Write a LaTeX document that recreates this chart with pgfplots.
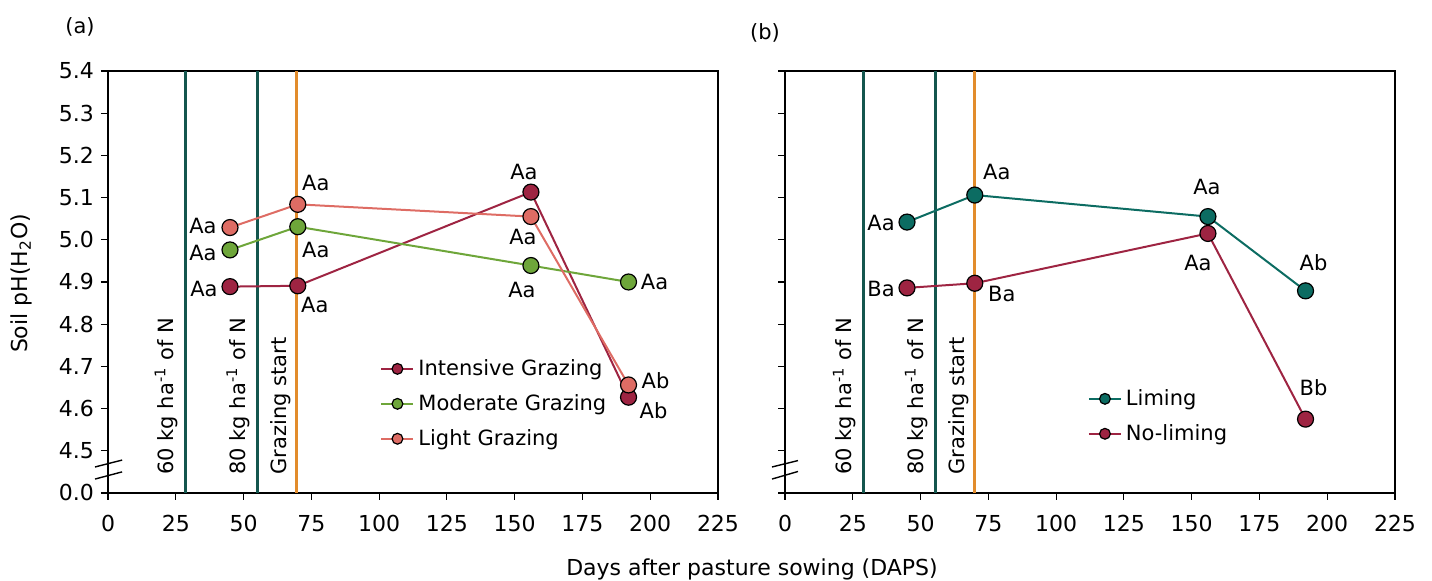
\documentclass[border=0pt]{standalone}
\usepackage{fontspec}
\setmainfont{DejaVu Sans}
\usepackage{pgfplots}
\pgfplotsset{compat=1.18}

\definecolor{intred}{RGB}{158,36,66}
\definecolor{modgreen}{RGB}{110,166,58}
\definecolor{lightsal}{RGB}{222,108,100}
\definecolor{limteal}{RGB}{12,108,98}
\definecolor{vteal}{RGB}{20,86,78}
\definecolor{vorange}{RGB}{226,140,44}

\newcommand{\fs}{\fontsize{10.5}{12.5}\selectfont}
\newcommand{\ft}{\fontsize{11}{13}\selectfont}
\newcommand{\lab}[4]{\node[font=\fs,inner sep=0pt] at ([xshift=#2,yshift=#3]axis cs:#1) {#4};}

\pgfplotsset{
  panel/.style={
    scale only axis, width=305pt, height=211pt,
    xmin=0, xmax=225, ymin=4.4, ymax=5.4,
    xtick={0,25,50,75,100,125,150,175,200,225},
    ytick={4.4,4.5,4.6,4.7,4.8,4.9,5.0,5.1,5.2,5.3,5.4},
    tick align=outside, xtick pos=bottom, ytick pos=left,
    major tick length=3.5pt,
    tick style={black, line width=0.6pt},
    axis line style={line width=0.7pt},
    /pgf/number format/assume math mode=true,
    tick label style={font=\ft},
    xticklabel style={yshift=-4pt},
    clip=false,
    legend cell align=left,
    legend style={draw=none, fill=none, font=\fs, row sep=4pt, inner sep=0pt},
    legend image code/.code={\draw[mark repeat=2,mark phase=2,##1,mark size=2.7pt] plot coordinates {(0pt,0pt)(8pt,0pt)(16pt,0pt)};},
  },
  ser/.style={line width=1pt, mark=*, mark size=4pt, mark options={draw=black, line width=0.6pt, fill=#1}, color=#1},
}

\begin{document}
\begin{tikzpicture}
\path[use as bounding box] (0,0) rectangle (716pt,290.5pt);

% ---------------- panel (a)
\begin{axis}[panel, at={(54pt,44pt)}, anchor=south west,
  yticklabels={0.0,4.5,4.6,4.7,4.8,4.9,5.0,5.1,5.2,5.3,5.4},
  legend style={at={(rel axis cs:0.446,0.327)}, anchor=north west}]
\addplot[vteal, line width=1.5pt, forget plot] coordinates {(28.5,4.4) (28.5,5.4)};
\addplot[vteal, line width=1.5pt, forget plot] coordinates {(55,4.4) (55,5.4)};
\addplot[ser=intred] coordinates {(45,4.889) (70,4.891) (156,5.113) (192,4.627)};
\addlegendentry{Intensive Grazing}
\addplot[ser=modgreen] coordinates {(45,4.976) (70,5.031) (156,4.939) (192,4.900)};
\addlegendentry{Moderate Grazing}
\addplot[ser=lightsal] coordinates {(45,5.029) (70,5.084) (156,5.055) (192,4.656)};
\addlegendentry{Light Grazing}
\addplot[vorange, line width=1.5pt, forget plot] coordinates {(69.5,4.4) (69.5,5.4)};

\node[font=\fs, rotate=90, anchor=base west, inner sep=0pt] at ([xshift=-6pt,yshift=9pt]axis cs:28.5,4.4) {60 kg ha\textsuperscript{-1} of N};
\node[font=\fs, rotate=90, anchor=base west, inner sep=0pt] at ([xshift=-6pt,yshift=9pt]axis cs:55,4.4) {80 kg ha\textsuperscript{-1} of N};
\node[font=\fs, rotate=90, anchor=base west, inner sep=0pt] at ([xshift=-5pt,yshift=9pt]axis cs:69.5,4.4) {Grazing start};

\lab{45,5.029}{-13.5pt}{1pt}{Aa}
\lab{70,5.084}{9pt}{10.5pt}{Aa}
\lab{156,5.055}{-4pt}{-10pt}{Aa}
\lab{192,4.656}{13.5pt}{2pt}{Ab}
\lab{45,4.976}{-13.5pt}{-1.5pt}{Aa}
\lab{70,5.031}{9pt}{-11.5pt}{Aa}
\lab{156,4.939}{-4.5pt}{-12pt}{Aa}
\lab{192,4.900}{13pt}{0pt}{Aa}
\lab{45,4.889}{-13pt}{-1pt}{Aa}
\lab{70,4.891}{8.5pt}{-9.5pt}{Aa}
\lab{156,5.113}{-3.5pt}{10pt}{Aa}
\lab{192,4.627}{12.5pt}{-6.5pt}{Ab}

\draw[line width=0.7pt] (axis cs:-4.8,4.4616) -- (axis cs:5.2,4.478);
\draw[line width=0.7pt] (axis cs:-4.8,4.433) -- (axis cs:5.2,4.450);
\end{axis}

% ---------------- panel (b)
\begin{axis}[panel, at={(392.5pt,44pt)}, anchor=south west,
  yticklabels={},
  legend style={at={(rel axis cs:0.496,0.256)}, anchor=north west}]
\addplot[vteal, line width=1.5pt, forget plot] coordinates {(29,4.4) (29,5.4)};
\addplot[vteal, line width=1.5pt, forget plot] coordinates {(55.5,4.4) (55.5,5.4)};
\addplot[ser=limteal] coordinates {(45,5.042) (70,5.106) (156,5.055) (192,4.879)};
\addlegendentry{Liming}
\addplot[ser=intred] coordinates {(45,4.886) (70,4.897) (156,5.015) (192,4.575)};
\addlegendentry{No-liming}
\addplot[vorange, line width=1.5pt, forget plot] coordinates {(70,4.4) (70,5.4)};

\node[font=\fs, rotate=90, anchor=base west, inner sep=0pt] at ([xshift=-6pt,yshift=9pt]axis cs:29,4.4) {60 kg ha\textsuperscript{-1} of N};
\node[font=\fs, rotate=90, anchor=base west, inner sep=0pt] at ([xshift=-6pt,yshift=9pt]axis cs:55.5,4.4) {80 kg ha\textsuperscript{-1} of N};
\node[font=\fs, rotate=90, anchor=base west, inner sep=0pt] at ([xshift=-5pt,yshift=9pt]axis cs:70,4.4) {Grazing start};

\lab{45,5.042}{-13pt}{-0.5pt}{Aa}
\lab{70,5.106}{11pt}{11.5pt}{Aa}
\lab{156,5.055}{-0.5pt}{15pt}{Aa}
\lab{192,4.879}{4pt}{14pt}{Ab}
\lab{45,4.886}{-13pt}{-0.5pt}{Ba}
\lab{70,4.897}{13.5pt}{-5.5pt}{Ba}
\lab{156,5.015}{-5pt}{-15pt}{Aa}
\lab{192,4.575}{4pt}{15.5pt}{Bb}

\draw[line width=0.7pt] (axis cs:-4.8,4.4616) -- (axis cs:4.8,4.4768);
\draw[line width=0.7pt] (axis cs:-4.8,4.433) -- (axis cs:4.8,4.451);
\end{axis}

\node[font=\fs] at (40pt,277pt) {(a)};
\node[font=\fs] at (382.5pt,274pt) {(b)};
\node[font=\ft, rotate=90] at (10.5pt,148.75pt) {Soil pH(H\textsubscript{2}O)};
\node[font=\ft] at (376pt,6pt) {Days after pasture sowing (DAPS)};
\end{tikzpicture}
\end{document}
